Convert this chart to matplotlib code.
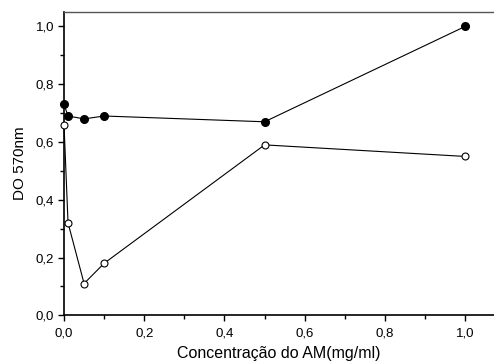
import matplotlib
matplotlib.use('Agg')
import matplotlib.pyplot as plt
from matplotlib.ticker import MultipleLocator

plt.rcParams['font.family'] = ['Liberation Sans', 'DejaVu Sans']

# dados
conc = [0.0, 0.01, 0.05, 0.1, 0.5, 1.0]
do_cheio = [0.73, 0.69, 0.68, 0.69, 0.67, 1.00]
do_vazio = [0.66, 0.32, 0.11, 0.18, 0.59, 0.55]

xticks = [0.0, 0.2, 0.4, 0.6, 0.8, 1.0]
yticks = [0.0, 0.2, 0.4, 0.6, 0.8, 1.0]
xlabels = ['0,0', '0,2', '0,4', '0,6', '0,8', '1,0']
ylabels = ['0,0', '0,2', '0,4', '0,6', '0,8', '1,0']

fig = plt.figure(figsize=(4.94, 3.63), dpi=100)
ax = fig.add_axes([0.1296, 0.1314, 0.8704, 0.8355])

ax.plot(conc, do_cheio, '-o', color='black', lw=0.8, markersize=5.5,
        markerfacecolor='black', markeredgecolor='black', clip_on=False, zorder=3)
ax.plot(conc, do_vazio, '-o', color='black', lw=0.8, markersize=5,
        markerfacecolor='white', markeredgecolor='black', markeredgewidth=0.8,
        clip_on=False, zorder=3)

ax.set_xlim(0, 1.072)
ax.set_ylim(0, 1.05)
ax.set_xticks(xticks)
ax.set_xticklabels(xlabels)
ax.set_yticks(yticks)
ax.set_yticklabels(ylabels)
ax.xaxis.set_minor_locator(MultipleLocator(0.1))
ax.yaxis.set_minor_locator(MultipleLocator(0.1))
ax.tick_params(which='major', direction='out', length=4.5, width=1, labelsize=9.5, pad=2.5)
ax.tick_params(which='minor', direction='out', length=3, width=1)
ax.tick_params(axis='x', which='major', pad=4)

ax.spines['right'].set_visible(False)
ax.spines['left'].set_linewidth(1.2)
ax.spines['bottom'].set_linewidth(1.2)
ax.spines['top'].set_linewidth(1.0)
ax.spines['top'].set_color('#555555')

ax.set_xlabel('Concentração do AM(mg/ml)', fontsize=11.5, labelpad=5)
ax.set_ylabel('DO 570nm', fontsize=11, labelpad=6)

fig.savefig('out.png', dpi=100)
